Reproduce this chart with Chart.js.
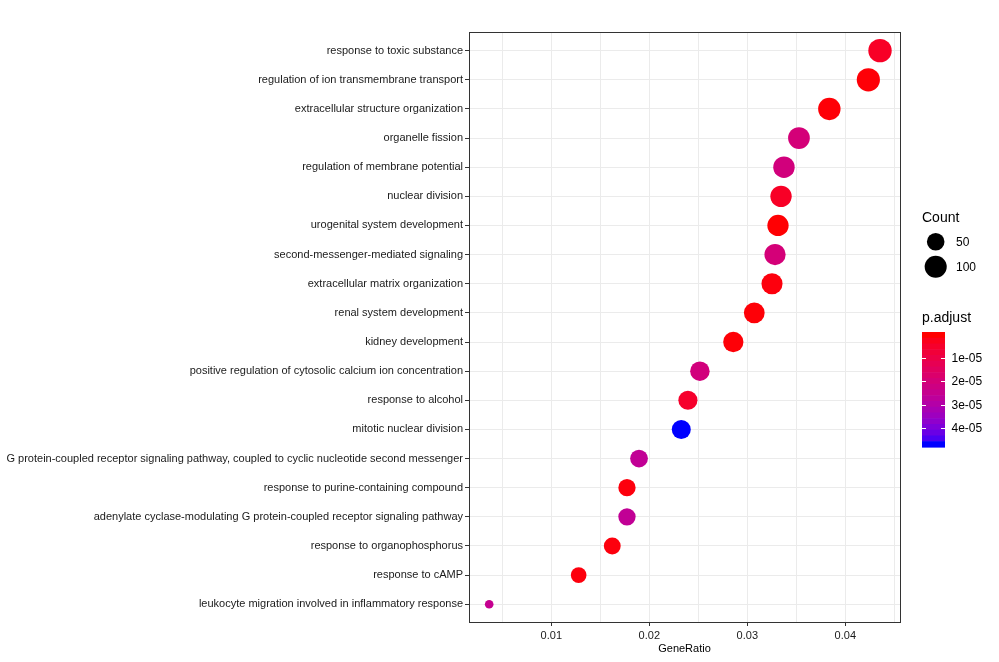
<!DOCTYPE html>
<html><head><meta charset="utf-8">
<script src="https://cdn.jsdelivr.net/npm/chart.js@4"></script>
<style>html,body{margin:0;padding:0;background:#fff}canvas{display:block}</style>
</head><body>
<canvas id="dot" width="999" height="662"></canvas>
<script>
const terms = [
  'response to toxic substance',
  'regulation of ion transmembrane transport',
  'extracellular structure organization',
  'organelle fission',
  'regulation of membrane potential',
  'nuclear division',
  'urogenital system development',
  'second-messenger-mediated signaling',
  'extracellular matrix organization',
  'renal system development',
  'kidney development',
  'positive regulation of cytosolic calcium ion concentration',
  'response to alcohol',
  'mitotic nuclear division',
  'G protein-coupled receptor signaling pathway, coupled to cyclic nucleotide second messenger',
  'response to purine-containing compound',
  'adenylate cyclase-modulating G protein-coupled receptor signaling pathway',
  'response to organophosphorus',
  'response to cAMP',
  'leukocyte migration involved in inflammatory response'
];
const geneRatio = [0.04354, 0.04235, 0.03837, 0.03527, 0.03374, 0.03344, 0.03313, 0.03283, 0.03252, 0.03071,
                   0.02857, 0.02516, 0.02394, 0.02326, 0.01895, 0.01772, 0.01772, 0.01622, 0.01279, 0.00366];
const counts = [119, 116, 105, 96, 92, 91, 90, 89, 88, 84, 78, 69, 65, 64, 52, 48, 48, 44, 35, 10];
const pAdjust = [0.4e-5, 0.05e-5, 0.05e-5, 2.0e-5, 2.1e-5, 0.4e-5, 0.02e-5, 2.0e-5, 0.1e-5, 0.05e-5,
                 0.05e-5, 2.1e-5, 0.5e-5, 4.7e-5, 2.6e-5, 0.1e-5, 2.6e-5, 0.1e-5, 0.1e-5, 2.5e-5];
const xTicks = [0.005, 0.01, 0.015, 0.02, 0.025, 0.03, 0.035, 0.04, 0.045];
const xTickLabels = ['', '0.01', '', '0.02', '', '0.03', '', '0.04', ''];
const countBreaks = [50, 100];
const pBreaks = [1e-5, 2e-5, 3e-5, 4e-5];
const pBreakLabels = ['1e-05', '2e-05', '3e-05', '4e-05'];

const FONT = "'Liberation Sans', Arial, sans-serif";

// ggplot-like Lab interpolation red -> blue
function toLin(c){ c /= 255; return c <= 0.04045 ? c/12.92 : Math.pow((c+0.055)/1.055, 2.4); }
function fromLin(c){ c = c <= 0.0031308 ? 12.92*c : 1.055*Math.pow(c, 1/2.4) - 0.055; return Math.round(Math.max(0, Math.min(1, c))*255); }
function rgb2lab(rgb){
  const [r, g, b] = rgb.map(toLin);
  const x = (0.4124*r + 0.3576*g + 0.1805*b)/0.95047, y = 0.2126*r + 0.7152*g + 0.0722*b, z = (0.0193*r + 0.1192*g + 0.9505*b)/1.08883;
  const f = t => t > 0.008856 ? Math.cbrt(t) : 7.787*t + 16/116;
  return [116*f(y) - 16, 500*(f(x) - f(y)), 200*(f(y) - f(z))];
}
function lab2rgb(L, a, bb){
  const fy = (L+16)/116, fx = fy + a/500, fz = fy - bb/200;
  const fi = t => t*t*t > 0.008856 ? t*t*t : (t - 16/116)/7.787;
  const x = fi(fx)*0.95047, y = fi(fy), z = fi(fz)*1.08883;
  const r = 3.2406*x - 1.5372*y - 0.4986*z, g = -0.9689*x + 1.8758*y + 0.0415*z, b = 0.0557*x - 0.2040*y + 1.0570*z;
  return `rgb(${fromLin(r)},${fromLin(g)},${fromLin(b)})`;
}
const LOW = rgb2lab([255, 0, 0]), HIGH = rgb2lab([0, 0, 255]);
const pMin = 0, pMax = Math.max(...pAdjust);
function colorAt(t){ return lab2rgb(...LOW.map((v, k) => v + (HIGH[k] - v)*t)); }
const colorOf = p => colorAt((p - pMin)/(pMax - pMin));

const cMin = Math.min(...counts), cMax = Math.max(...counts);
const sizeOf = c => 4.3 + 7.4*Math.sqrt(Math.max(0, (c - cMin)/(cMax - cMin)));

const panelAndLegend = {
  id: 'panelAndLegend',
  afterDatasetsDraw(chart){
    const {ctx, chartArea: a} = chart;
    ctx.save();
    ctx.strokeStyle = '#333333'; ctx.lineWidth = 1;
    ctx.strokeRect(a.left + 0.5, a.top + 0.5, a.right - a.left, a.bottom - a.top);
    ctx.restore();
  },
  afterDraw(chart){
    const ctx = chart.ctx;
    ctx.save();
    ctx.fillStyle = '#000';
    ctx.textBaseline = 'alphabetic';
    ctx.font = `14px ${FONT}`;
    ctx.fillText('Count', 922, 222);
    ctx.font = `12px ${FONT}`;
    ctx.textBaseline = 'middle';
    countBreaks.forEach((c, i) => {
      const cy = 241.7 + i*25;
      ctx.beginPath(); ctx.arc(935.7, cy, sizeOf(c), 0, Math.PI*2); ctx.fill();
      ctx.fillText(String(c), 956, cy + 0.5);
    });
    ctx.textBaseline = 'alphabetic';
    ctx.font = `14px ${FONT}`;
    ctx.fillText('p.adjust', 922, 322);
    // colour bar, 20 bins like ggplot
    const bx = 922, by = 332, bw = 23, bh = 115, nbin = 20;
    for (let i = 0; i < nbin; i++){
      ctx.fillStyle = colorAt(i/(nbin - 1));
      ctx.fillRect(bx, by + i*bh/nbin, bw, bh/nbin + 0.6);
    }
    ctx.strokeStyle = '#fff'; ctx.lineWidth = 1;
    ctx.fillStyle = '#000';
    ctx.font = `12px ${FONT}`;
    ctx.textBaseline = 'middle';
    pBreaks.forEach((p, i) => {
      const ty = Math.round(by + bh*(0.5 + (nbin - 1)*(p - pMin)/(pMax - pMin))/nbin) + 0.5;
      ctx.beginPath();
      ctx.moveTo(bx, ty); ctx.lineTo(bx + 4, ty);
      ctx.moveTo(bx + bw - 4, ty); ctx.lineTo(bx + bw, ty);
      ctx.stroke();
      ctx.fillText(pBreakLabels[i], 951.5, ty + 0.5);
    });
    ctx.restore();
  }
};

new Chart(document.getElementById('dot'), {
  type: 'scatter',
  data: {
    datasets: [{
      data: terms.map((t, i) => ({x: geneRatio[i], y: i})),
      pointRadius: c => sizeOf(counts[c.dataIndex]),
      pointHoverRadius: c => sizeOf(counts[c.dataIndex]),
      pointBackgroundColor: c => colorOf(pAdjust[c.dataIndex]),
      pointBorderWidth: 0
    }]
  },
  options: {
    responsive: false, animation: false, devicePixelRatio: 1,
    layout: {padding: {top: 32, right: 99, left: 0, bottom: 0}},
    plugins: {legend: {display: false}, tooltip: {enabled: false}},
    scales: {
      x: {
        type: 'linear', min: 0.0016, max: 0.04558,
        afterBuildTicks: s => { s.ticks = xTicks.map(v => ({value: v})); },
        afterFit: s => { s.height = 40; },
        ticks: {callback: (v, i) => xTickLabels[i], color: '#1a1a1a', font: {family: FONT, size: 11}, padding: 3, maxRotation: 0, autoSkip: false},
        grid: {color: '#EBEBEB', lineWidth: 1, tickLength: 4, tickColor: c => xTickLabels[c.index] ? '#333333' : 'rgba(0,0,0,0)'},
        border: {display: false},
        title: {display: true, text: 'GeneRatio', color: '#000', font: {family: FONT, size: 11}, padding: {top: 0, bottom: 6}}
      },
      y: {
        type: 'linear', reverse: true, min: -0.64, max: terms.length - 0.39,
        afterBuildTicks: s => { s.ticks = terms.map((t, i) => ({value: i})); },
        afterFit: s => { s.width = 469; },
        ticks: {callback: (v, i) => terms[i], color: '#1a1a1a', font: {family: FONT, size: 11}, padding: 2, autoSkip: false},
        grid: {color: '#EBEBEB', lineWidth: 1, tickLength: 4, tickColor: '#333333'},
        border: {display: false}
      }
    }
  },
  plugins: [panelAndLegend]
});
</script>
</body></html>
